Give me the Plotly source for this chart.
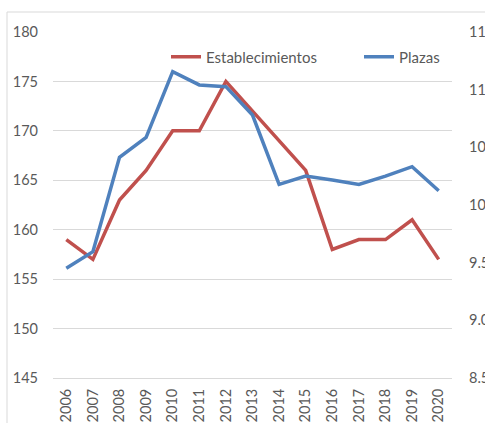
import plotly.graph_objects as go

years = [str(y) for y in range(2006, 2021)]
establecimientos = [159, 157, 163, 166, 170, 170, 175, 172, 169, 166, 158, 159, 159, 161, 157]
plazas = [9451, 9595, 10414, 10587, 11156, 11041, 11026, 10780, 10179, 10251, 10217, 10179, 10251, 10332, 10124]

W, H = 485, 423
L, R, T, B = 53, 452, 32, 378
FONT = "Lato"
GREY = "#595959"

fig = go.Figure()
fig.add_trace(go.Scatter(x=years, y=establecimientos, name="Establecimientos", mode="lines",
                         line=dict(color="#C0504D", width=3.5), legend="legend"))
fig.add_trace(go.Scatter(x=years, y=plazas, name="Plazas", mode="lines", yaxis="y2",
                         line=dict(color="#4F81BD", width=3.5), legend="legend2"))

def px(x):
    return (x - L) / (R - L)

def py(y):
    return (B - y) / (B - T)

leg = dict(orientation="h", xanchor="left", y=py(57), yanchor="middle",
           bgcolor="rgba(0,0,0,0)", font=dict(size=15, color=GREY))

fig.update_layout(
    width=W, height=H,
    margin=dict(l=L, r=W - R, t=T, b=H - B, autoexpand=False),
    paper_bgcolor="white", plot_bgcolor="white",
    font=dict(family=FONT, size=14.5, color=GREY),
    separators=",.",
    showlegend=True,
    legend=dict(leg, x=px(166)),
    legend2=dict(leg, x=px(359)),
    xaxis=dict(type="category", range=[-0.5, 14.5], showgrid=False, showline=True,
               linecolor="#d9d9d9", linewidth=1, ticks="", tickangle=-90, automargin=False,
               ticklabelstandoff=4, tickfont=dict(size=14.5, color=GREY)),
    yaxis=dict(range=[145, 180], dtick=5, showgrid=True, gridcolor="#d9d9d9", gridwidth=1,
               zeroline=False, showline=False, ticks="", ticklabelstandoff=14, automargin=False,
               tickfont=dict(size=14.5, color=GREY)),
    yaxis2=dict(range=[8500, 11500], dtick=500, overlaying="y", side="right", showgrid=False,
                zeroline=False, showline=False, ticks="", tickformat=",d", ticklabelstandoff=16,
                automargin=False, tickfont=dict(size=14.5, color=GREY)),
    shapes=[
        dict(type="line", xref="paper", yref="paper", x0=px(7), x1=px(500), y0=py(12), y1=py(12),
             line=dict(color="#d9d9d9", width=1)),
        dict(type="line", xref="paper", yref="paper", x0=px(7), x1=px(7), y0=py(12), y1=py(440),
             line=dict(color="#d9d9d9", width=1)),
    ],
)

fig.write_html("out.html", config={"displayModeBar": False},
               post_script="document.body.style.margin='0';document.body.style.overflow='hidden';")
